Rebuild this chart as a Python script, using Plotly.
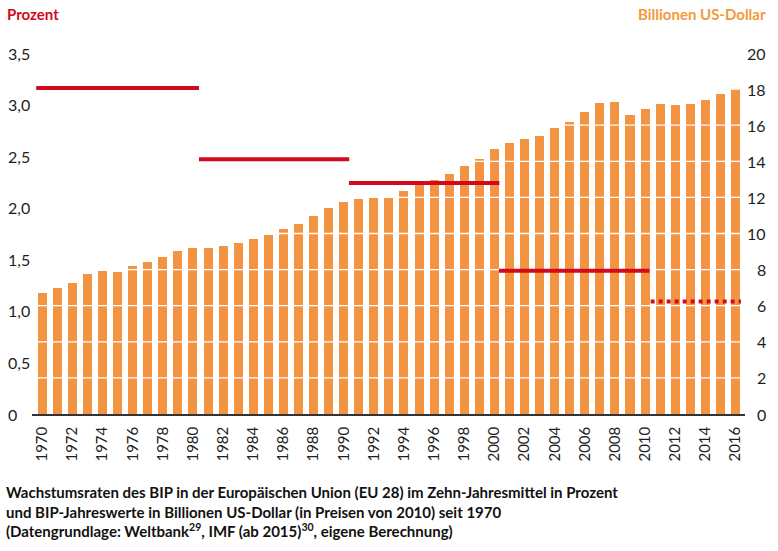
import plotly.graph_objects as go

# ---- data -------------------------------------------------------------
years = list(range(1970, 2017))
gdp_trn_usd = [6.70, 6.96, 7.27, 7.74, 7.92, 7.85, 8.20, 8.44, 8.70, 9.05,
               9.18, 9.20, 9.31, 9.47, 9.70, 9.92, 10.23, 10.53, 10.99, 11.41,
               11.75, 11.92, 12.04, 12.02, 12.35, 12.74, 12.96, 13.31, 13.72, 14.13,
               14.68, 15.01, 15.22, 15.40, 15.83, 16.16, 16.71, 17.23, 17.30, 16.55,
               16.90, 17.19, 17.10, 17.15, 17.38, 17.73, 18.02]

growth_start = [1969.6, 1980.4, 1990.35, 2000.3, 2010.37]
growth_end = [1980.4, 1990.37, 2000.33, 2010.3, 2016.36]
growth_rate = [3.16, 2.47, 2.24, 1.39, 1.09]
growth_dotted = [False, False, False, False, True]

x_tickvals = list(range(1970, 2017, 2))
x_ticktext = [str(v) for v in x_tickvals]
left_tickvals = [0, 0.5, 1.0, 1.5, 2.0, 2.5, 3.0, 3.5]
left_ticktext = ["0", "0,5", "1,0", "1,5", "2,0", "2,5", "3,0", "3,5"]
right_tickvals = [0, 2, 4, 6, 8, 10, 12, 14, 16, 18, 20]
right_ticktext = [str(v) for v in right_tickvals]

title_left = "Prozent"
title_right = "Billionen US-Dollar"
caption = ("Wachstumsraten des BIP in der Europäischen Union (EU 28) im Zehn-Jahresmittel in Prozent<br>"
           "und BIP-Jahreswerte in Billionen US-Dollar (in Preisen von 2010) seit 1970<br>"
           "(Datengrundlage: Weltbank<sup>29</sup>, IMF (ab 2015)<sup>30</sup>, eigene Berechnung)")

# ---- style ------------------------------------------------------------
BAR = "#F29441"
RED = "#D20A1E"
ORANGE_TXT = "#F39A3A"
TXT = "#1E1E1E"
FONT = "Lato, 'Open Sans', sans-serif"
X_RANGE = [1969.32, 2016.63]

fig = go.Figure()

fig.add_trace(go.Bar(x=years, y=gdp_trn_usd, width=0.6, name="BIP",
                     marker=dict(color=BAR, line=dict(width=0)),
                     yaxis="y", hoverinfo="x+y"))

# invisible companion trace so the percent axis is active
fig.add_trace(go.Scatter(x=[years[0]], y=[left_tickvals[0]], mode="markers",
                         marker=dict(opacity=0), yaxis="y2", hoverinfo="skip"))

shapes = []
# white grid lines drawn above the bars (at right-axis ticks)
for v in right_tickvals[1:-1]:
    shapes.append(dict(type="line", xref="x", yref="y", x0=X_RANGE[0], x1=X_RANGE[1],
                       y0=v, y1=v, layer="above", line=dict(color="#FFFFFF", width=1.3)))
# decade averages of growth rate (left axis), drawn after the grid
for s, e, r, d in zip(growth_start, growth_end, growth_rate, growth_dotted):
    shapes.append(dict(type="line", xref="x", yref="y2", x0=s, x1=e, y0=r, y1=r,
                       layer="above",
                       line=dict(color=RED, width=4, dash="dot" if d else "solid")))

annotations = []
for v, t in zip(left_tickvals, left_ticktext):
    annotations.append(dict(x=0, xref="paper", xanchor="left", xshift=-26,
                            y=v, yref="y2", yanchor="middle", text=t, showarrow=False,
                            font=dict(family=FONT, size=16, color=TXT)))
for v, t in zip(right_tickvals, right_ticktext):
    annotations.append(dict(x=1, xref="paper", xanchor="right", xshift=23,
                            y=v, yref="y", yanchor="middle", text=t, showarrow=False,
                            font=dict(family=FONT, size=16, color=TXT)))
annotations.append(dict(x=0, xref="paper", xanchor="left", xshift=-27,
                        y=1, yref="paper", yanchor="middle", yshift=39,
                        text="<b>%s</b>" % title_left, showarrow=False,
                        font=dict(family=FONT, size=15, color=RED)))
annotations.append(dict(x=1, xref="paper", xanchor="right", xshift=23,
                        y=1, yref="paper", yanchor="middle", yshift=39,
                        text="<b>%s</b>" % title_right, showarrow=False,
                        font=dict(family=FONT, size=15, color=ORANGE_TXT)))
annotations.append(dict(x=0, xref="paper", xanchor="left", xshift=-28,
                        y=0, yref="paper", yanchor="top", yshift=-67, align="left",
                        text="<b>%s</b>" % caption, showarrow=False,
                        font=dict(family=FONT, size=15, color="#111111")))

fig.update_layout(
    width=778, height=551,
    margin=dict(l=32, r=33, t=53, b=137),
    paper_bgcolor="white", plot_bgcolor="white",
    showlegend=False, bargap=0,
    xaxis=dict(range=X_RANGE, tickmode="array", tickvals=x_tickvals, ticktext=x_ticktext,
               tickangle=-90, tickfont=dict(family=FONT, size=15, color=TXT),
               showgrid=False, zeroline=False, showline=True, linecolor="#333333",
               linewidth=1.5, ticks="", ticklabelstandoff=5),
    yaxis=dict(range=[0, 20], side="right", showgrid=False, zeroline=False,
               showticklabels=False, ticks=""),
    yaxis2=dict(range=[0, 3.5], side="left", overlaying="y", showgrid=False,
                zeroline=False, showticklabels=False, ticks=""),
    shapes=shapes,
    annotations=annotations,
)

fig.write_html("out.html", config={"displayModeBar": False},
               post_script="document.body.style.margin='0';document.body.style.overflow='hidden';")
